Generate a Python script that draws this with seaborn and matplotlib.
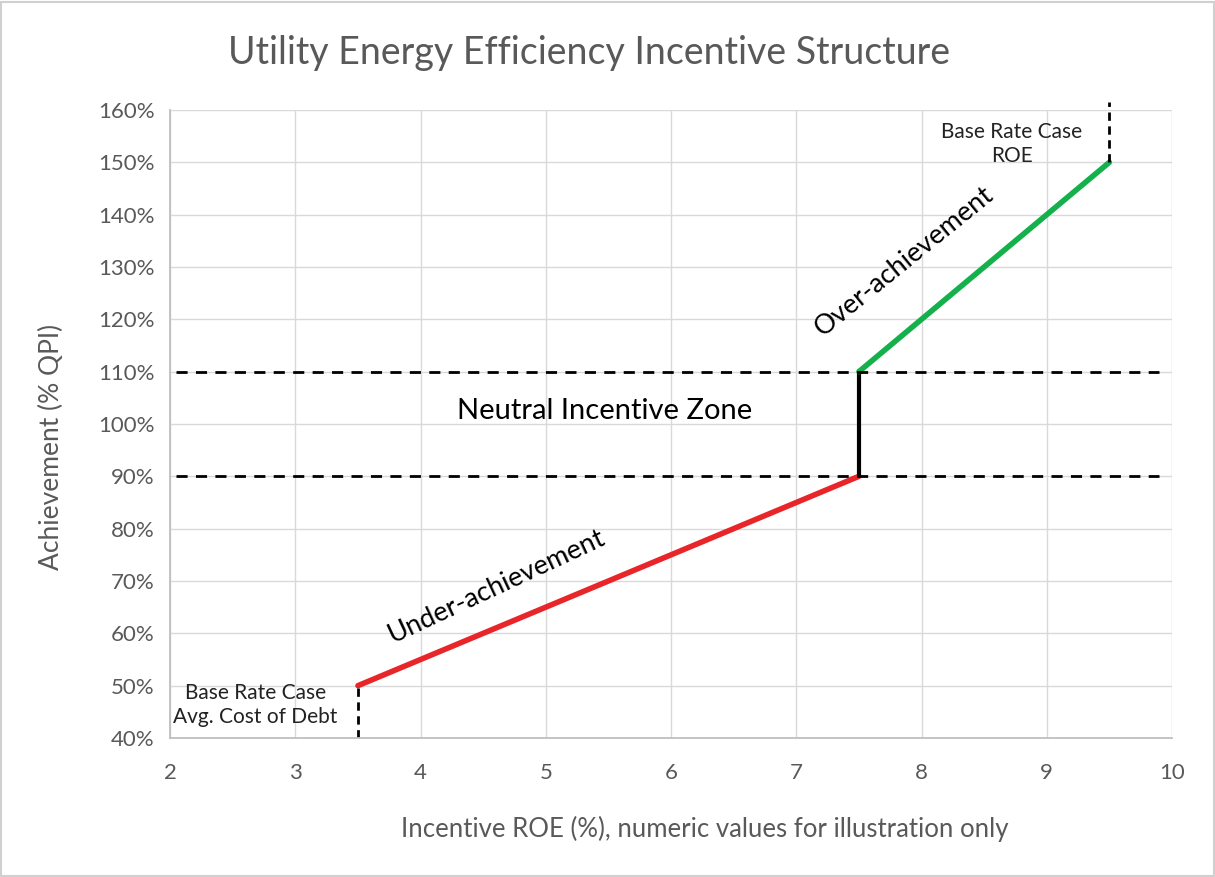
#!/usr/bin/env python3
# -*- coding: utf-8 -*-
"""
Utility energy efficiency incentive structure.
"""
#%%
import matplotlib.pyplot as plt
import matplotlib.patches as mpatches
import numpy as np
import pandas as pd
import seaborn as sns
from matplotlib.ticker import MultipleLocator, FuncFormatter
#%%
sns.set_style("white")
plt.rcParams["font.family"] = ["Lato", "DejaVu Sans"]
#%%
# segments of the incentive curve (ROE %, achievement % QPI)
under_roe = [3.5, 7.5]
under_ach = [50, 90]
neutral_roe = [7.5, 7.5]
neutral_ach = [90, 110]
over_roe = [7.5, 9.5]
over_ach = [110, 150]
# zone bounds
zone_bounds = [90, 110]
# base rate case markers
debt_roe = [3.5, 3.5]
debt_ach = [40, 50]
roe_roe = [9.5, 9.5]
roe_ach = [150, 161.5]
#%%
grey = "#595959"
fig = plt.figure(figsize=(12.15, 8.77), dpi=100, facecolor="white")
ax = fig.add_axes([0.14, 0.1585, 0.8246, 0.7161])

segs = pd.DataFrame({
    "roe": under_roe + neutral_roe + over_roe,
    "ach": under_ach + neutral_ach + over_ach,
    "seg": ["under"] * 2 + ["neutral"] * 2 + ["over"] * 2,
})
sns.lineplot(
    data=segs, x="roe", y="ach", hue="seg", sort=False, estimator=None,
    palette={"under": "#e8262a", "neutral": "black", "over": "#13b04b"},
    lw=4, legend=False, ax=ax
)
ax.lines[1].set_linewidth(3)
for yb in zone_bounds:
    sns.lineplot(x=[2.05, 9.9], y=[yb, yb], color="black", lw=2,
                 ls=(0, (4, 3)), estimator=None, ax=ax)
sns.lineplot(x=debt_roe, y=debt_ach, color="black", lw=2, ls=(0, (3, 2)),
             sort=False, estimator=None, ax=ax)
sns.lineplot(x=roe_roe, y=roe_ach, color="black", lw=2, ls=(0, (3, 2)),
             sort=False, estimator=None, ax=ax, clip_on=False)

ax.set_xlim(2, 10)
ax.set_ylim(40, 160)
ax.set_xlabel("")
ax.set_ylabel("")
ax.xaxis.set_major_locator(MultipleLocator(1))
ax.xaxis.set_minor_locator(MultipleLocator(0.5))
ax.yaxis.set_major_locator(MultipleLocator(10))
ax.yaxis.set_major_formatter(FuncFormatter(lambda v, _: "%d%%" % v))
ax.grid(True, which="major", color="#d9d9d9", lw=1)
ax.set_axisbelow(True)
for s in ["top", "right"]:
    ax.spines[s].set_visible(False)
for s in ["left", "bottom"]:
    ax.spines[s].set_color("#bfbfbf")
    ax.spines[s].set_linewidth(1.3)
ax.tick_params(which="both", direction="out", color="#bfbfbf", width=1.3,
               labelcolor=grey, labelsize=16, pad=5)
ax.tick_params(which="major", length=6)
ax.tick_params(which="minor", length=6)
ax.tick_params(axis="x", pad=12)

fig.text(0.58, 0.055, "Incentive ROE (%), numeric values for illustration only",
         size=18.5, color=grey, ha="center", va="center")
fig.text(0.042, 0.49, "Achievement (% QPI)", size=19, color=grey,
         ha="center", va="center", rotation=90)
fig.text(0.485, 0.94, "Utility Energy Efficiency Incentive Structure",
         size=27, color=grey, ha="center", va="center")

ax.text(5.47, 102.5, "Neutral Incentive Zone", size=21, color="black",
        ha="center", va="center")
ax.text(4.61, 69, "Under-achievement", size=19.5, color="black",
        ha="center", va="center", rotation=25)
ax.text(7.86, 131, "Over-achievement", size=19.5, color="black",
        ha="center", va="center", rotation=39)
ax.text(2.68, 46.3, "Base Rate Case\nAvg. Cost of Debt", size=15,
        color="#222222", ha="center", va="center", linespacing=1.3)
ax.text(8.72, 153.5, "Base Rate Case\nROE", size=15, color="#222222",
        ha="center", va="center", linespacing=1.3)

fig.patches.append(mpatches.Rectangle(
    (0.001, 0.001), 0.998, 0.997, transform=fig.transFigure,
    fill=False, edgecolor="#d0d0d0", lw=1.5
))
plt.savefig("out.png", dpi=100, facecolor="white")
plt.close()
